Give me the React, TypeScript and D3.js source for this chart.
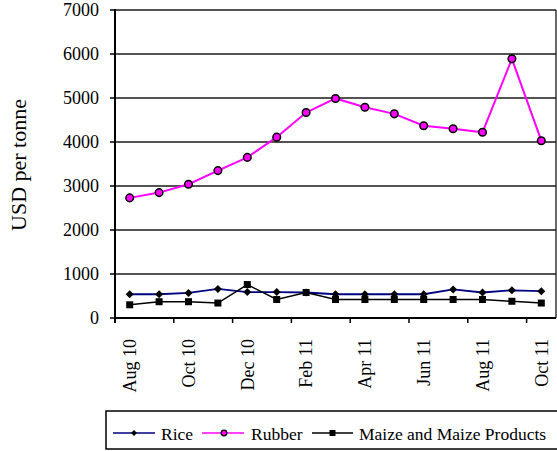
import React from "react";
import * as d3 from "d3";

const months = ["Aug 10","Sep 10","Oct 10","Nov 10","Dec 10","Jan 11","Feb 11","Mar 11","Apr 11","May 11","Jun 11","Jul 11","Aug 11","Sep 11","Oct 11"];
const rice = [540, 540, 570, 660, 590, 590, 580, 540, 540, 540, 540, 650, 580, 630, 610];
const rubber = [2730, 2850, 3040, 3350, 3650, 4110, 4670, 4990, 4790, 4640, 4370, 4300, 4220, 5890, 4030];
const maize = [300, 370, 370, 340, 760, 420, 580, 420, 420, 420, 420, 420, 420, 380, 340];
const yTicks = [0, 1000, 2000, 3000, 4000, 5000, 6000, 7000];

const W = 557, H = 451;
const L = 115, R = 556, T = 10, B = 318;
const FONT = "Liberation Serif, Times New Roman, DejaVu Serif, serif";
const ts = { fontFamily: FONT };

export default function App() {
  const x = d3.scaleBand<string>().domain(months).range([L, R]).padding(0);
  const y = d3.scaleLinear().domain([0, 7000]).range([B, T]);
  const cx = (i: number) => (x(months[i]) as number) + x.bandwidth() / 2;
  const line = d3.line<number>().x((_, i) => cx(i)).y((v) => y(v));

  const diamond = (px: number, py: number, s: number) =>
    `M${px},${py - s}L${px + s},${py}L${px},${py + s}L${px - s},${py}Z`;

  const tickIdx = months.map((_, i) => i).filter((i) => i % 2 === 0);

  return (
    <svg width={W} height={H} style={{ position: "absolute", left: 0, top: 0, background: "#fff", fontFamily: FONT }}>
      {yTicks.filter((t) => t > 0).map((t) => (
        <line key={t} x1={L} x2={R} y1={y(t)} y2={y(t)} stroke="#1a1a1a" strokeWidth={1.3} />
      ))}
      <line x1={R} x2={R} y1={T} y2={B} stroke="#1a1a1a" strokeWidth={1.3} />
      <line x1={L} x2={L} y1={T - 1} y2={B + 5} stroke="#000" strokeWidth={2} />
      {yTicks.map((t) => (
        <g key={"yt" + t}>
          <line x1={L - 5} x2={L} y1={y(t)} y2={y(t)} stroke="#000" strokeWidth={1.5} />
          <text style={ts} x={99} y={y(t)} dy="0.35em" textAnchor="end" fontSize={18}>{t}</text>
        </g>
      ))}
      <line x1={L} x2={R} y1={B} y2={B} stroke="#000" strokeWidth={2} />
      {tickIdx.map((i) => (
        <g key={"xt" + i}>
          <line x1={x(months[i]) as number} x2={x(months[i]) as number} y1={B} y2={B + 5} stroke="#000" strokeWidth={1.5} />
          <text style={ts} transform={`translate(${cx(i)},339) rotate(-90)`} dy="0.35em" textAnchor="end" fontSize={18}>{months[i]}</text>
        </g>
      ))}
      <text style={ts} transform={`translate(18,165) rotate(-90)`} dy="0.35em" textAnchor="middle" fontSize={22}>USD per tonne</text>

      <path d={line(rice) || ""} fill="none" stroke="#000080" strokeWidth={1.8} />
      {rice.map((v, i) => (
        <path key={"r" + i} d={diamond(cx(i), y(v), 4)} fill="#000" />
      ))}
      <path d={line(rubber) || ""} fill="none" stroke="#FF00FF" strokeWidth={2} />
      {rubber.map((v, i) => (
        <circle key={"u" + i} cx={cx(i)} cy={y(v)} r={3.8} fill="#FF00FF" stroke="#000" strokeWidth={1.5} />
      ))}
      <path d={line(maize) || ""} fill="none" stroke="#000" strokeWidth={1.5} />
      {maize.map((v, i) => (
        <rect key={"m" + i} x={cx(i) - 3.5} y={y(v) - 3.5} width={7} height={7} fill="#000" />
      ))}

      <rect x={106} y={411} width={460} height={38} fill="none" stroke="#000" strokeWidth={1.5} />
      <line x1={113} x2={155} y1={433} y2={433} stroke="#000080" strokeWidth={1.5} />
      <path d={diamond(134, 433, 3)} fill="#000" />
      <text style={ts} x={161} y={439.5} fontSize={17.5}>Rice</text>
      <line x1={202} x2={244} y1={433} y2={433} stroke="#FF00FF" strokeWidth={1.5} />
      <circle cx={224} cy={433} r={2.8} fill="#FF00FF" stroke="#000" strokeWidth={1.3} />
      <text style={ts} x={251} y={439.5} fontSize={17.5}>Rubber</text>
      <line x1={312} x2={353} y1={433} y2={433} stroke="#000" strokeWidth={1.5} />
      <rect x={329.5} y={430} width={6} height={6} fill="#000" />
      <text style={ts} x={359} y={439.5} fontSize={17.5}>Maize and Maize Products</text>
    </svg>
  );
}
